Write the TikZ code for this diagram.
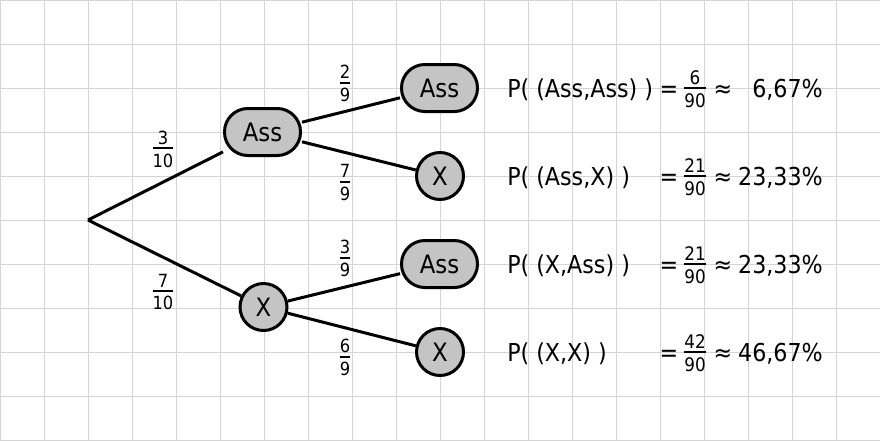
\documentclass[tikz,border=0pt]{standalone}
\usepackage{fontspec}
\setmainfont{DejaVu Sans Condensed}
\newcommand\fr[2]{\vbox{\offinterlineskip\halign{\hfil##\hfil\cr#1\cr\noalign{\kern2.3pt\hrule height1.5pt\kern3.2pt}#2\cr}}}
\definecolor{gridgray}{RGB}{212,212,212}
\definecolor{nodegray}{RGB}{196,196,196}
\tikzset{
  gridline/.style={draw=gridgray, line width=0.75pt},
  assnode/.style={draw, fill=nodegray, line width=2.25pt, rectangle, rounded corners=17.5pt,
    minimum width=57pt, minimum height=35.25pt, inner sep=0pt, font=\fontsize{19}{22}\selectfont},
  xnode/.style={draw, fill=nodegray, line width=2.25pt, circle, minimum size=35.25pt,
    inner sep=0pt, font=\fontsize{19}{22}\selectfont},
  branch/.style={line width=2.25pt},
  bigfrac/.style={inner sep=0pt, font=\fontsize{13.6}{16}\selectfont},
  smallfrac/.style={inner sep=0pt, font=\fontsize{14}{16}\selectfont},
  rowtext/.style={inner sep=0pt, font=\fontsize{18.5}{21}\selectfont},
}
\begin{document}
\begin{tikzpicture}[x=0.75pt, y=-0.75pt]
\useasboundingbox (0,0) rectangle (880,440);
\fill[white] (0,0) rectangle (880,440);
\foreach \i in {0,44,...,880} \draw[gridline] (\i,0) -- (\i,440);
\foreach \j in {0,44,...,440} \draw[gridline] (0,\j) -- (880,\j);

\coordinate (root) at (88,220);
\node[assnode] (a) at (262.5,132) {Ass};
\node[xnode] (x) at (263.5,307) {X};
\node[assnode] (aa) at (439.5,88) {Ass};
\node[xnode] (ax) at (440,176) {X};
\node[assnode] (xa) at (439.5,264) {Ass};
\node[xnode] (xx) at (440,352) {X};

\draw[branch] (root) -- (a);
\draw[branch] (root) -- (x);
\draw[branch] (a) -- (aa);
\draw[branch] (a) -- (ax);
\draw[branch] (x) -- (xa);
\draw[branch] (x) -- (xx);

\node[bigfrac] (f1) at (163,149) {\fr{3}{10}};
\node[bigfrac] (f2) at (163,292) {\fr{7}{10}};
\node[bigfrac] (f3) at (345,83.6) {\fr{2}{9}};
\node[bigfrac] (f4) at (345,182.6) {\fr{7}{9}};
\node[bigfrac] (f5) at (345,258.6) {\fr{3}{9}};
\node[bigfrac] (f6) at (345,357.6) {\fr{6}{9}};

% rows
\node[rowtext, anchor=base west] (p1) at (507,97) {P( (Ass,Ass) )};
\node[rowtext, anchor=base] (e1) at (669,97) {=};
\node[smallfrac] (q1) at (695,89) {\fr{6}{90}};
\node[rowtext, anchor=base] (s1) at (723,97) {≈};
\node[rowtext, anchor=base east] (r1) at (823,97) {6,67\%};

\node[rowtext, anchor=base west] (p2) at (507,185) {P( (Ass,X) )};
\node[rowtext, anchor=base] (e2) at (669,185) {=};
\node[smallfrac] (q2) at (695,177) {\fr{21}{90}};
\node[rowtext, anchor=base] (s2) at (723,185) {≈};
\node[rowtext, anchor=base east] (r2) at (823,185) {23,33\%};

\node[rowtext, anchor=base west] (p3) at (507,273) {P( (X,Ass) )};
\node[rowtext, anchor=base] (e3) at (669,273) {=};
\node[smallfrac] (q3) at (695,265) {\fr{21}{90}};
\node[rowtext, anchor=base] (s3) at (723,273) {≈};
\node[rowtext, anchor=base east] (r3) at (823,273) {23,33\%};

\node[rowtext, anchor=base west] (p4) at (507,361) {P( (X,X) )};
\node[rowtext, anchor=base] (e4) at (669,361) {=};
\node[smallfrac] (q4) at (695,353) {\fr{42}{90}};
\node[rowtext, anchor=base] (s4) at (723,361) {≈};
\node[rowtext, anchor=base east] (r4) at (823,361) {46,67\%};
\end{tikzpicture}
\end{document}
